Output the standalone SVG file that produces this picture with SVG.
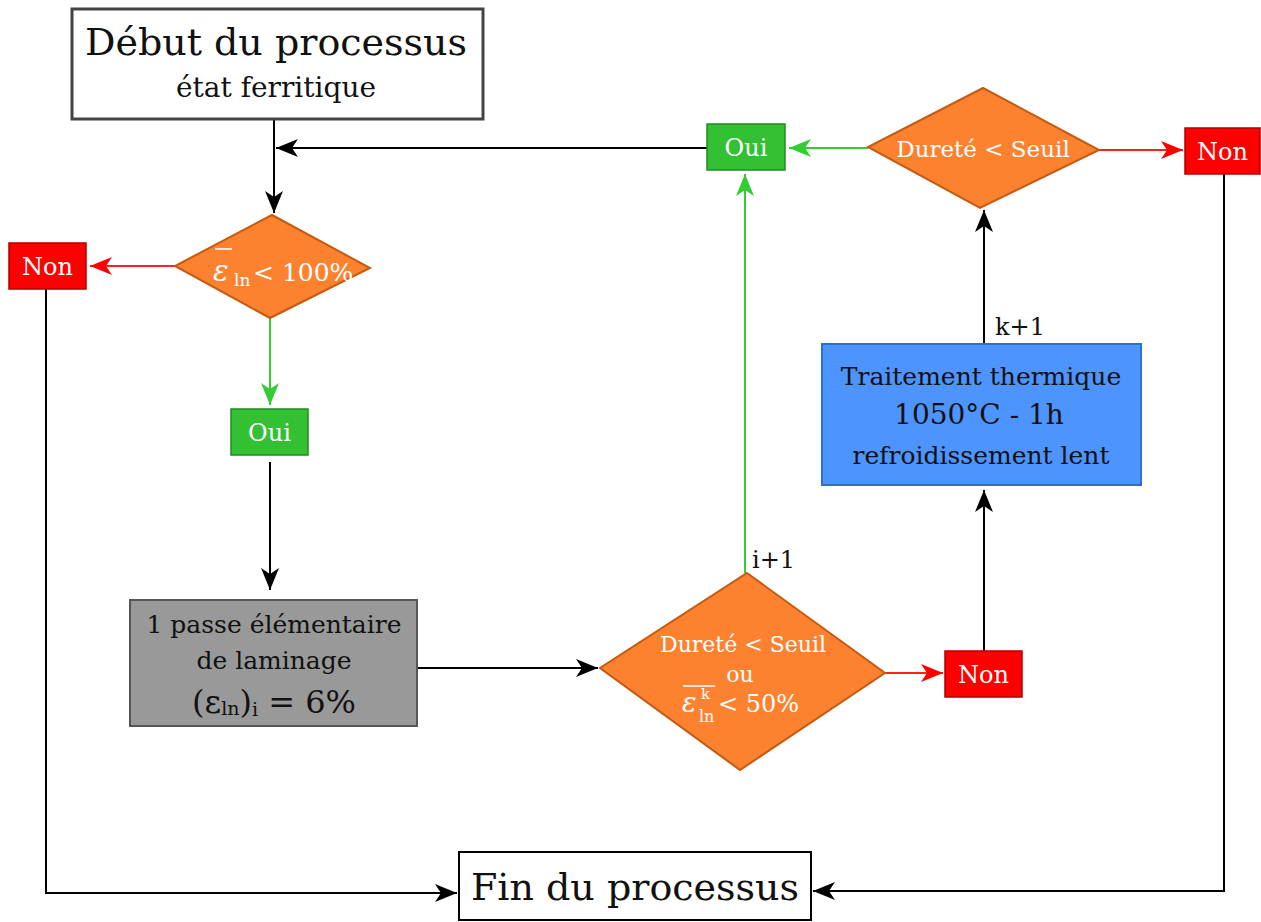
<svg xmlns="http://www.w3.org/2000/svg" width="1261" height="922" viewBox="0 0 1261 922">
<style>
text{font-family:"DejaVu Serif","Liberation Serif",serif;}
.w{fill:#fff;}
.k{fill:#111;}
.dia{fill:#fd8230;stroke:#c55a11;stroke-width:2;}
.non{fill:#ff0000;stroke:#b00000;stroke-width:1.5;}
.oui{fill:#33c033;stroke:#228b22;stroke-width:1.5;}
.lk{stroke:#000;stroke-width:2;fill:none;}
.lg{stroke:#33cc33;stroke-width:2;fill:none;}
.lr{stroke:#ff2020;stroke-width:2;fill:none;}
</style>
<defs>
<marker id="ak" markerUnits="userSpaceOnUse" markerWidth="24" markerHeight="20" refX="22" refY="9" orient="auto"><path d="M0,0 L22,9 L0,18 L6,9 z" fill="#000"/></marker>
<marker id="ag" markerUnits="userSpaceOnUse" markerWidth="24" markerHeight="20" refX="22" refY="9" orient="auto"><path d="M0,0 L22,9 L0,18 L6,9 z" fill="#33cc33"/></marker>
<marker id="ar" markerUnits="userSpaceOnUse" markerWidth="24" markerHeight="20" refX="22" refY="9" orient="auto"><path d="M0,0 L22,9 L0,18 L6,9 z" fill="#ff0000"/></marker>
</defs>
<rect width="1261" height="922" fill="#fff"/>

<g id="connectors">
<path class="lk" d="M274,120 V213" marker-end="url(#ak)"/>
<path class="lr" d="M175,266 H90" marker-end="url(#ar)"/>
<path class="lg" d="M270,318 V405" marker-end="url(#ag)"/>
<path class="lk" d="M270,462 V590" marker-end="url(#ak)"/>
<path class="lk" d="M417,668 H598" marker-end="url(#ak)"/>
<path class="lr" d="M885,673 H943" marker-end="url(#ar)"/>
<path class="lk" d="M984,651 V490" marker-end="url(#ak)"/>
<path class="lk" d="M984,344 V210" marker-end="url(#ak)"/>
<path class="lg" d="M868,148 H789" marker-end="url(#ag)"/>
<path class="lr" d="M1099,150 H1183" marker-end="url(#ar)"/>
<path class="lk" d="M707,148 H276" marker-end="url(#ak)"/>
<path class="lg" d="M745,573 V174" marker-end="url(#ag)"/>
<path class="lk" d="M46,289 V893 H457" marker-end="url(#ak)"/>
<path class="lk" d="M1224,174 V891 H813" marker-end="url(#ak)"/>
<text x="752" y="568" class="k" font-size="24">i+1</text>
<text x="995" y="335" class="k" font-size="24">k+1</text>
</g>

<g id="start">
<rect x="72" y="9" width="411" height="110" fill="#fff" stroke="#444" stroke-width="3"/>
<text x="276" y="55" text-anchor="middle" class="k" font-size="38">Début du processus</text>
<text x="276" y="97" text-anchor="middle" class="k" font-size="28">état ferritique</text>
</g>

<g id="d1">
<polygon class="dia" points="272,215 370,268 270,318 175,266"/>
<line x1="215" y1="249" x2="232" y2="249" stroke="#fff" stroke-width="1.5"/>
<text x="213" y="281" class="w" font-size="29" font-style="italic">ε</text>
<text x="234" y="286" class="w" font-size="17">ln</text>
<text x="253" y="281" class="w" font-size="25">&lt; 100%</text>
</g>

<g id="non1">
<rect class="non" x="9" y="243" width="77" height="46"/>
<text x="47.5" y="275" text-anchor="middle" class="w" font-size="24">Non</text>
</g>

<g id="oui1">
<rect class="oui" x="231" y="409" width="77" height="46"/>
<text x="269.5" y="441" text-anchor="middle" class="w" font-size="24">Oui</text>
</g>

<g id="passe">
<rect x="130" y="600" width="287" height="126" fill="#999" stroke="#555" stroke-width="2"/>
<text x="274" y="633" text-anchor="middle" class="k" font-size="25">1 passe élémentaire</text>
<text x="274" y="669" text-anchor="middle" class="k" font-size="25">de laminage</text>
<text x="274" y="713" text-anchor="middle" class="k" font-size="32">(ε<tspan font-size="19" dy="2">ln</tspan><tspan dy="-2">)</tspan><tspan font-size="19" dy="3">i</tspan><tspan dy="-3"> = 6%</tspan></text>
</g>

<g id="d2">
<polygon class="dia" points="747,573 885,673 740,770 600,668"/>
<text x="743" y="652" text-anchor="middle" class="w" font-size="22">Dureté &lt;  Seuil</text>
<text x="740" y="682" text-anchor="middle" class="w" font-size="22">ou</text>
<line x1="683" y1="686" x2="715" y2="686" stroke="#fff" stroke-width="1.5"/>
<text x="682" y="712" class="w" font-size="27" font-style="italic">ε</text>
<text x="701" y="699" class="w" font-size="15">k</text>
<text x="699" y="722" class="w" font-size="16">ln</text>
<text x="718" y="712" class="w" font-size="24">&lt; 50%</text>
</g>

<g id="non2">
<rect class="non" x="945" y="651" width="77" height="46"/>
<text x="983.5" y="683" text-anchor="middle" class="w" font-size="24">Non</text>
</g>

<g id="traitement">
<rect x="822" y="344" width="319" height="141" fill="#4d94ff" stroke="#2f6fcc" stroke-width="2"/>
<text x="981" y="385" text-anchor="middle" class="k" font-size="25">Traitement thermique</text>
<text x="979" y="424" text-anchor="middle" class="k" font-size="28">1050°C - 1h</text>
<text x="981" y="464" text-anchor="middle" class="k" font-size="25">refroidissement lent</text>
</g>

<g id="d3">
<polygon class="dia" points="983,88 1099,150 980,208 868,147"/>
<text x="983" y="157" text-anchor="middle" class="w" font-size="23">Dureté &lt;  Seuil</text>
</g>

<g id="oui2">
<rect class="oui" x="707" y="124" width="78" height="46"/>
<text x="746" y="156" text-anchor="middle" class="w" font-size="24">Oui</text>
</g>

<g id="non3">
<rect class="non" x="1185" y="128" width="75" height="46"/>
<text x="1222.5" y="160" text-anchor="middle" class="w" font-size="24">Non</text>
</g>

<g id="fin">
<rect x="459" y="852" width="352" height="68" fill="#fff" stroke="#000" stroke-width="2"/>
<text x="635" y="900" text-anchor="middle" class="k" font-size="38">Fin du processus</text>
</g>
</svg>
